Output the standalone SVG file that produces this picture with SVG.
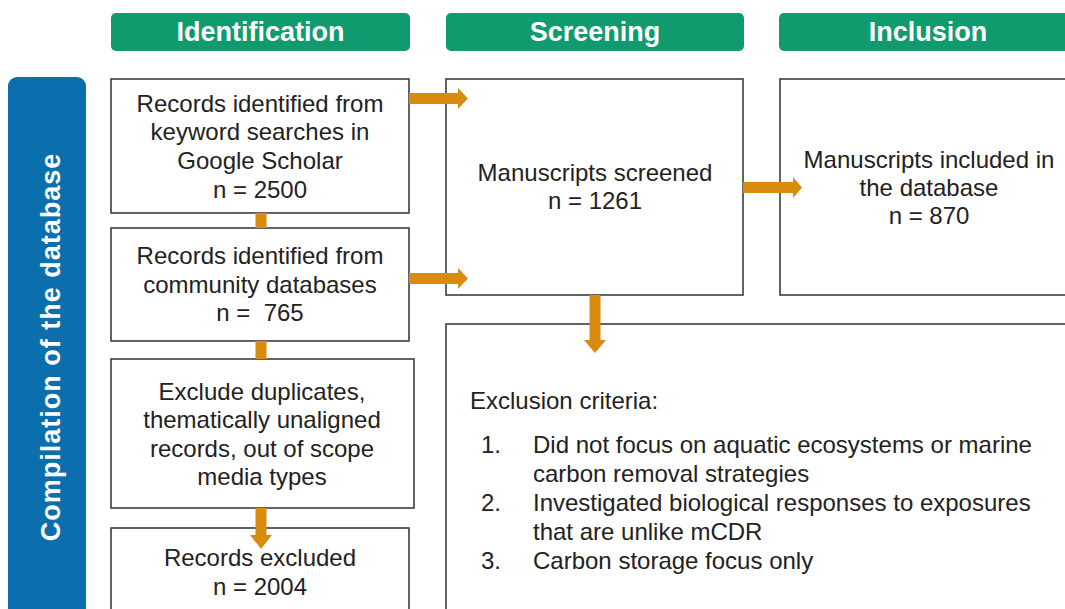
<svg xmlns="http://www.w3.org/2000/svg" width="1065" height="609" viewBox="0 0 1065 609">
  <style>
    .hdr { fill: #0f9b6d; }
    .hdr-t { font-family: "Liberation Sans", Arial, sans-serif; font-weight: bold; font-size: 27px; fill: #ffffff; text-anchor: middle; }
    .box { fill: #ffffff; stroke: #3c3c3c; stroke-width: 1.6; }
    .t { font-family: "Liberation Sans", Arial, sans-serif; font-size: 24px; fill: #222222; text-anchor: middle; white-space: pre; }
    .tl { font-family: "Liberation Sans", Arial, sans-serif; font-size: 24px; fill: #222222; }
    .flow { fill: #d98b0e; }
  </style>

  <rect width="1065" height="609" fill="#ffffff"/>

  <!-- Phase headers -->
  <g id="hdr-identification">
    <rect class="hdr" x="111" y="13" width="299" height="38" rx="5"/>
    <text class="hdr-t" x="260.5" y="41">Identification</text>
  </g>
  <g id="hdr-screening">
    <rect class="hdr" x="446" y="13" width="298" height="38" rx="5"/>
    <text class="hdr-t" x="595" y="41">Screening</text>
  </g>
  <g id="hdr-inclusion">
    <rect class="hdr" x="779" y="13" width="300" height="38" rx="5"/>
    <text class="hdr-t" x="928" y="41">Inclusion</text>
  </g>

  <!-- Side label -->
  <g id="side-label">
    <rect x="8" y="77" width="78" height="545" rx="9" fill="#0b6fae"/>
    <text class="hdr-t" font-size="31" letter-spacing="1" transform="translate(60,347) rotate(-90)" x="0" y="0">Compilation of the database</text>
  </g>

  <!-- Identification column -->
  <g id="node-keyword">
    <rect class="box" x="111" y="79" width="298" height="134"/>
    <text class="t" x="260" y="112">Records identified from</text>
    <text class="t" x="260" y="140">keyword searches in</text>
    <text class="t" x="260" y="169">Google Scholar</text>
    <text class="t" x="260" y="198">n = 2500</text>
  </g>
  <g id="node-community">
    <rect class="box" x="111" y="228" width="298" height="113"/>
    <text class="t" x="260" y="264">Records identified from</text>
    <text class="t" x="260" y="293">community databases</text>
    <text class="t" x="260" y="321" xml:space="preserve">n =  765</text>
  </g>
  <g id="node-exclude">
    <rect class="box" x="111" y="359" width="303" height="149"/>
    <text class="t" x="262" y="400">Exclude duplicates,</text>
    <text class="t" x="262" y="428">thematically unaligned</text>
    <text class="t" x="262" y="457">records, out of scope</text>
    <text class="t" x="262" y="485">media types</text>
  </g>
  <g id="node-excluded">
    <rect class="box" x="111" y="528" width="298" height="100"/>
    <text class="t" x="260" y="566">Records excluded</text>
    <text class="t" x="260" y="595">n = 2004</text>
  </g>

  <!-- Screening column -->
  <g id="node-screened">
    <rect class="box" x="446" y="79" width="297" height="216"/>
    <text class="t" x="595" y="181">Manuscripts screened</text>
    <text class="t" x="595" y="209">n = 1261</text>
  </g>

  <!-- Inclusion column -->
  <g id="node-included">
    <rect class="box" x="780" y="79" width="300" height="216"/>
    <text class="t" x="929" y="168">Manuscripts included in</text>
    <text class="t" x="929" y="196">the database</text>
    <text class="t" x="929" y="224">n = 870</text>
  </g>

  <!-- Exclusion criteria -->
  <g id="node-criteria">
    <rect class="box" x="446" y="324" width="640" height="300"/>
    <text class="tl" x="470" y="409">Exclusion criteria:</text>
    <text class="tl" x="481" y="453">1.</text>
    <text class="tl" x="533" y="453">Did not focus on aquatic ecosystems or marine</text>
    <text class="tl" x="533" y="482">carbon removal strategies</text>
    <text class="tl" x="481" y="511">2.</text>
    <text class="tl" x="533" y="511">Investigated biological responses to exposures</text>
    <text class="tl" x="533" y="540">that are unlike mCDR</text>
    <text class="tl" x="481" y="569">3.</text>
    <text class="tl" x="533" y="569">Carbon storage focus only</text>
  </g>

  <!-- Connectors: thick orange arrows drawn over the box outlines -->
  <g id="connectors">
    <rect class="flow" x="409" y="93" width="50" height="11"/>
    <polygon class="flow" points="458,88 468,98.5 458,109"/>
    <rect class="flow" x="409" y="273" width="50" height="11"/>
    <polygon class="flow" points="458,268 468,278.5 458,289"/>
    <rect class="flow" x="743" y="182" width="51" height="11"/>
    <polygon class="flow" points="793,177 802,187.5 793,198"/>
    <rect class="flow" x="589.5" y="295" width="11" height="46"/>
    <polygon class="flow" points="584,340 606,340 595,353"/>
    <rect class="flow" x="255.5" y="213" width="11" height="15"/>
    <rect class="flow" x="255.5" y="341" width="11" height="18"/>
    <rect class="flow" x="255.5" y="508" width="11" height="28"/>
    <polygon class="flow" points="250,535 272,535 261,549"/>
  </g>
</svg>
